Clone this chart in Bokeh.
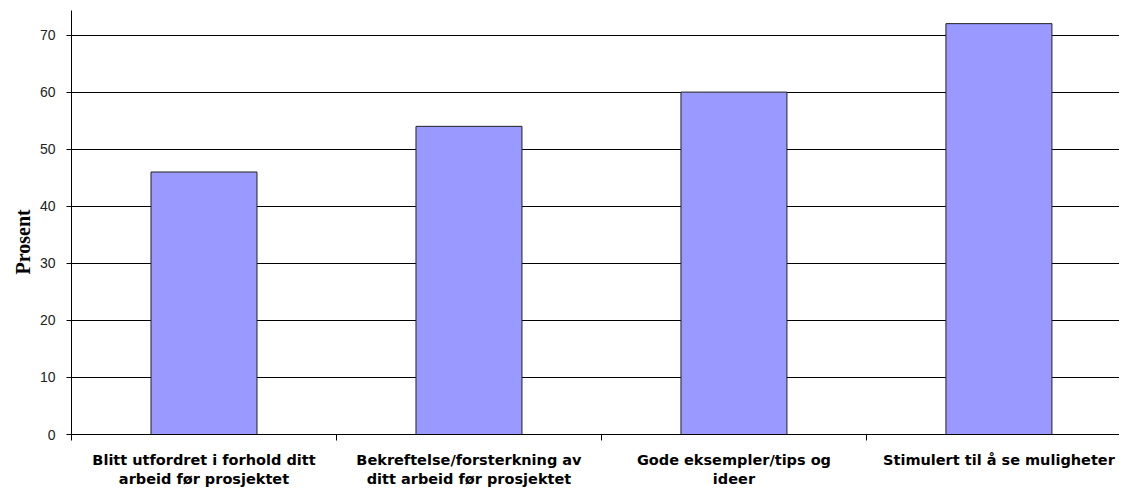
from bokeh.plotting import figure
from bokeh.models import Range1d, FixedTicker, ColumnDataSource, Title
from bokeh.embed import file_html
from bokeh.resources import INLINE

categories = [
    "Blitt utfordret i forhold ditt\narbeid før prosjektet",
    "Bekreftelse/forsterkning av\nditt arbeid før prosjektet",
    "Gode eksempler/tips og\nideer",
    "Stimulert til å se muligheter",
]
values = [46, 54, 60, 72]
y_ticks = [0, 10, 20, 30, 40, 50, 60, 70]
y_label = "Prosent"

n = len(categories)
centers = [i + 0.5 for i in range(n)]
bounds = list(range(n + 1))

src = ColumnDataSource(dict(x=centers, top=values))

p = figure(width=1119, height=489, output_backend="svg", toolbar_location=None,
           x_range=Range1d(0, 3.955), y_range=Range1d(0, 74.3),
           min_border_left=71, min_border_right=0, min_border_top=10, min_border_bottom=51)
p.outline_line_color = None
p.background_fill_color = "white"
p.border_fill_color = "white"

p.vbar(x="x", top="top", bottom=0, width=0.4, source=src,
       fill_color="#9999FF", line_color="#222222", line_width=1)

# y axis
p.yaxis.ticker = FixedTicker(ticks=y_ticks, minor_ticks=[])
p.yaxis.major_label_text_font = "Liberation Sans"
p.yaxis.major_label_text_font_size = "14px"
p.yaxis.major_label_text_color = "#222222"
p.yaxis.major_tick_out = 5
p.yaxis.major_tick_in = 0
p.yaxis.major_label_standoff = 11
p.yaxis.axis_line_color = "black"
p.yaxis.major_tick_line_color = "black"

p.add_layout(Title(text=y_label, align="left", offset=160,
                   text_font="Liberation Serif", text_font_style="bold",
                   text_font_size="20px", text_color="black", standoff=6), "left")

# x axis: labels at centers, tick marks at category boundaries
p.xaxis.ticker = FixedTicker(ticks=centers, minor_ticks=bounds)
p.xaxis.major_label_overrides = {c: lab for c, lab in zip(centers, categories)}
p.xaxis.major_tick_out = 0
p.xaxis.major_tick_in = 0
p.xaxis.minor_tick_out = 6
p.xaxis.minor_tick_in = 0
p.xaxis.minor_tick_line_color = "black"
p.xaxis.axis_line_color = "black"
p.xaxis.major_label_text_font = "DejaVu Sans"
p.xaxis.major_label_text_font_style = "bold"
p.xaxis.major_label_text_font_size = "14.5px"
p.xaxis.major_label_text_color = "black"
p.xaxis.major_label_text_line_height = 1.2
p.xaxis.major_label_standoff = 11
p.xaxis.major_label_text_align = "center"

p.xgrid.grid_line_color = None
p.ygrid.ticker = FixedTicker(ticks=y_ticks[1:])
p.ygrid.grid_line_color = "black"
p.ygrid.grid_line_width = 1

open("out.html", "w").write(file_html(p, INLINE))
